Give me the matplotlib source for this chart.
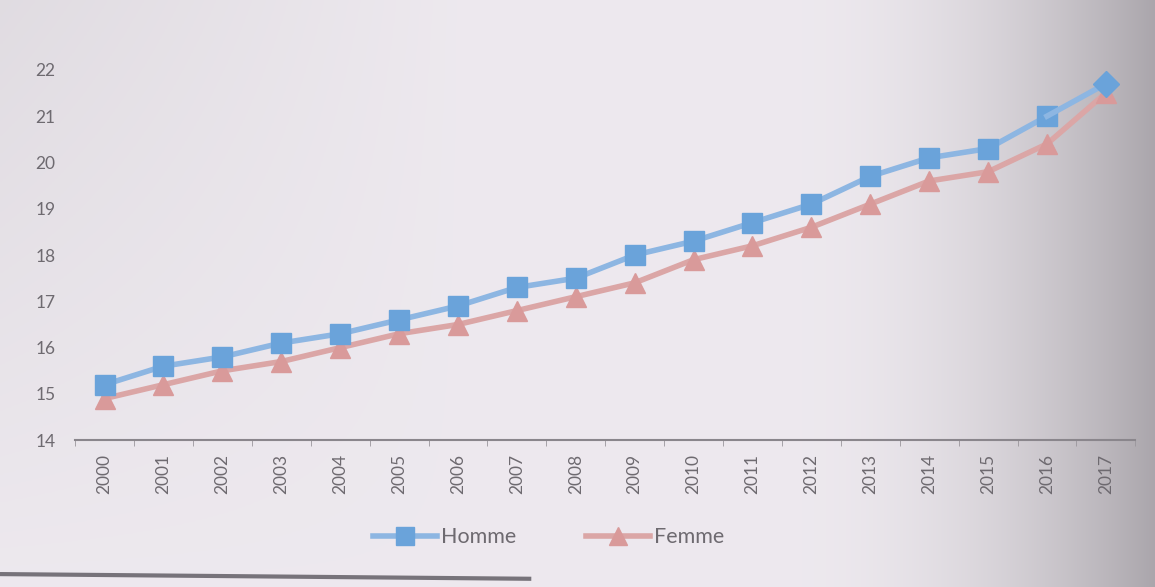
import numpy as np
from matplotlib import pyplot as plt
from matplotlib.lines import Line2D

plt.rcParams['font.family'] = ['Lato', 'DejaVu Sans']

YEARS = [str(y) for y in range(2000, 2018)]
HOMME = [15.2, 15.6, 15.8, 16.1, 16.3, 16.6, 16.9, 17.3, 17.5, 18.0,
         18.3, 18.7, 19.1, 19.7, 20.1, 20.3, 21.0, 21.7]
FEMME = [14.9, 15.2, 15.5, 15.7, 16.0, 16.3, 16.5, 16.8, 17.1, 17.4,
         17.9, 18.2, 18.6, 19.1, 19.6, 19.8, 20.4, 21.5]
Y_TICKS = list(range(14, 23))

BLUE_LINE = '#8db6e2'
BLUE_MARK = '#6aa3da'
PINK_LINE = '#dba6a6'
PINK_MARK = '#d99a9a'
TEXT = '#6e6a70'


def background(fig):
    # projected slide: light in the middle, darker towards the right edge
    bg = fig.add_axes([0, 0, 1, 1], zorder=-10)
    xs = np.linspace(0, 1, 400)
    ys = np.linspace(0, 1, 200)
    gx, gy = np.meshgrid(xs, ys)
    shade = 0.925 - 0.26 * np.clip((gx - 0.68) / 0.32, 0, 1) ** 2
    shade -= 0.05 * np.clip(1 - gx * 2.5, 0, 1) * gy
    rgb = np.dstack([shade + 0.005, shade - 0.012, shade + 0.01])
    bg.imshow(np.clip(rgb, 0, 1), extent=[0, 1, 0, 1], aspect='auto', origin='lower')
    bg.plot([0, 0.46], [0.022, 0.014], color='#77737a', lw=3, solid_capstyle='butt')
    bg.set_xlim(0, 1)
    bg.set_ylim(0, 1)
    bg.axis('off')


fig = plt.figure(figsize=(11.55, 5.87), dpi=100)
background(fig)

ax = fig.add_axes([0.065, 0.25, 0.918, 0.631])
ax.patch.set_alpha(0)
x = np.arange(len(YEARS))

ax.plot(x[:-1], HOMME[:-1], color=BLUE_LINE, lw=4, marker='s', ms=15,
        mfc=BLUE_MARK, mec=BLUE_MARK, zorder=3)
ax.plot(x[-2:], HOMME[-2:], color=BLUE_LINE, lw=4, marker='D', ms=13,
        mfc=BLUE_MARK, mec=BLUE_MARK, markevery=[1], zorder=3)
ax.plot(x, FEMME, color=PINK_LINE, lw=4, marker='^', ms=15,
        mfc=PINK_MARK, mec=PINK_MARK, zorder=2)

ax.set_xlim(-0.5, len(YEARS) - 0.5)
ax.set_ylim(14, 22)
ax.set_yticks(Y_TICKS)
ax.set_yticklabels([str(t) for t in Y_TICKS], color=TEXT, fontsize=12.5)
ax.tick_params(axis='y', length=0, pad=14)

ax.set_xticks(x)
ax.set_xticklabels(YEARS, rotation=90, color=TEXT, fontsize=12.5)
ax.set_xticks(np.arange(-0.5, len(YEARS)), minor=True)
ax.tick_params(axis='x', which='major', length=0, pad=10)
ax.tick_params(axis='x', which='minor', length=4, color='#9a969c')

for side in ['left', 'right', 'top']:
    ax.spines[side].set_visible(False)
ax.spines['bottom'].set_color('#8a868c')
ax.spines['bottom'].set_linewidth(1.5)

handles = [
    Line2D([], [], color=BLUE_LINE, lw=4, marker='s', ms=13, mfc=BLUE_MARK, mec=BLUE_MARK),
    Line2D([], [], color=PINK_LINE, lw=4, marker='^', ms=13, mfc=PINK_MARK, mec=PINK_MARK),
]
fig.legend(handles, ['Homme', 'Femme'], loc='center', bbox_to_anchor=(0.475, 0.085),
           ncol=2, frameon=False, fontsize=15.5, labelcolor=TEXT,
           handlelength=3, handletextpad=0.2, columnspacing=3.2)

fig.savefig('out.png', dpi=100)
